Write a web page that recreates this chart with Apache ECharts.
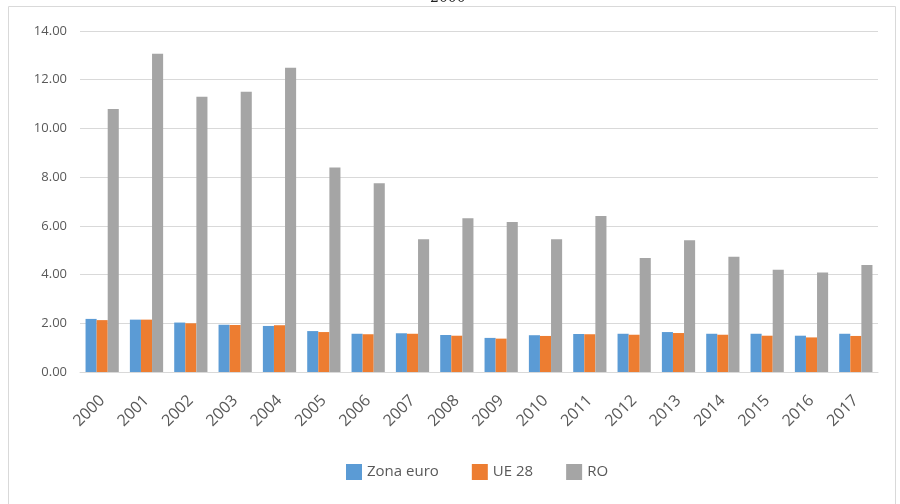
<!DOCTYPE html>
<html style="height: 100%">
<head>
    <meta charset="utf-8">
</head>
<body style="height: 100%; margin: 0; background: #fff">
<div id="container" style="width: 900px; height: 504px"></div>
<script type="text/javascript" src="https://cdn.jsdelivr.net/npm/echarts@6/dist/echarts.min.js"></script>
<script type="text/javascript">
    var dom = document.getElementById("container");
    var myChart = echarts.init(dom);

    // ani
    var years = ['2000', '2001', '2002', '2003', '2004', '2005', '2006', '2007', '2008',
        '2009', '2010', '2011', '2012', '2013', '2014', '2015', '2016', '2017'];
    // Zona euro
    var zonaEuro = [2.18, 2.15, 2.03, 1.94, 1.89, 1.68, 1.57, 1.59, 1.52,
        1.40, 1.51, 1.56, 1.57, 1.64, 1.57, 1.57, 1.49, 1.57];
    // UE 28
    var ue28 = [2.13, 2.15, 2.00, 1.93, 1.92, 1.64, 1.55, 1.57, 1.49,
        1.37, 1.48, 1.55, 1.53, 1.60, 1.53, 1.49, 1.42, 1.48];
    // Romania
    var ro = [10.80, 13.07, 11.30, 11.51, 12.49, 8.40, 7.75, 5.45, 6.31,
        6.16, 5.45, 6.40, 4.68, 5.41, 4.73, 4.20, 4.09, 4.39];

    var textColor = '#595959';
    var fontFam = '"Open Sans", "DejaVu Sans", sans-serif';

    var option = {
        animation: false,
        textStyle: {fontFamily: fontFam},
        graphic: [{
            type: 'rect',
            shape: {x: 8.5, y: 6.5, width: 887, height: 520},
            style: {fill: 'none', stroke: '#d9d9d9', lineWidth: 1},
            silent: true
        }, {
            type: 'text',
            x: 430,
            y: -9,
            style: {text: '2000', fontSize: 14, fill: '#222', fontFamily: 'DejaVu Serif'}
        }],
        legend: {
            data: ['Zona euro', 'UE 28', 'RO'],
            bottom: 19,
            left: 341,
            itemWidth: 16,
            itemHeight: 16,
            itemGap: 33,
            icon: 'rect',
            textStyle: {color: textColor, fontSize: 15, fontFamily: fontFam}
        },
        grid: {
            left: 80,
            right: 22,
            top: 31,
            bottom: 132
        },
        xAxis: {
            type: 'category',
            data: years,
            axisTick: {show: false},
            axisLine: {lineStyle: {color: '#d9d9d9'}},
            axisLabel: {
                interval: 0,
                rotate: 45,
                margin: 26,
                color: textColor,
                fontSize: 16,
                fontFamily: fontFam
            }
        },
        yAxis: {
            type: 'value',
            min: 0,
            max: 14,
            interval: 2,
            axisLine: {show: false},
            axisTick: {show: false},
            splitLine: {lineStyle: {color: '#d9d9d9'}},
            axisLabel: {
                margin: 13,
                color: textColor,
                fontSize: 13,
                fontFamily: fontFam,
                formatter: function (v) { return v.toFixed(2); }
            }
        },
        series: [{
            name: 'Zona euro',
            type: 'bar',
            data: zonaEuro,
            barGap: '0%',
            barCategoryGap: '25%',
            itemStyle: {color: '#5b9bd5'}
        }, {
            name: 'UE 28',
            type: 'bar',
            data: ue28,
            itemStyle: {color: '#ed7d31'}
        }, {
            name: 'RO',
            type: 'bar',
            data: ro,
            itemStyle: {color: '#a5a5a5'}
        }]
    };
    myChart.setOption(option, true);
</script>
</body>
</html>
